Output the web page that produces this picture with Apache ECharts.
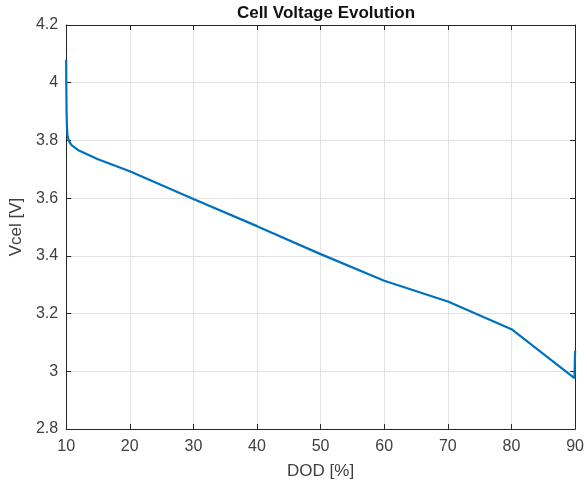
<!DOCTYPE html>
<html>
<head>
<meta charset="utf-8">
<script src="https://cdn.jsdelivr.net/npm/echarts@6/dist/echarts.min.js"></script>
<style>html,body{margin:0;padding:0;background:#fff}#c{width:587px;height:486px}</style>
</head>
<body>
<div id="c"></div>
<script>
const dod  = [10, 10.03, 10.07, 10.12, 10.2, 10.4, 10.8, 12, 15, 20, 30, 40, 50, 60, 70, 80, 89.9, 90];
const vcel = [4.08, 3.98, 3.90, 3.85, 3.82, 3.80, 3.785, 3.765, 3.735, 3.693, 3.597, 3.503, 3.406, 3.314, 3.242, 3.146, 2.976, 3.071];
const xTicks = [10, 20, 30, 40, 50, 60, 70, 80, 90];
const yTicks = [2.8, 3, 3.2, 3.4, 3.6, 3.8, 4, 4.2];

const axisCol = '#262626';
const labelCol = '#404040';
const font = 'Liberation Sans, Arial, sans-serif';
const chart = echarts.init(document.getElementById('c'));
const base = {
  axisLine: {show: true, lineStyle: {color: axisCol, width: 1}},
  axisTick: {show: true, inside: true, length: 5, lineStyle: {color: axisCol}},
  axisLabel: {color: labelCol, fontSize: 16, fontFamily: font}
};
chart.setOption({
  animation: false,
  title: {
    text: 'Cell Voltage Evolution', left: 321, textAlign: 'center', top: 0,
    textStyle: {fontFamily: font, fontWeight: 'bold', fontSize: 17, color: '#111'}
  },
  grid: {left: 65, right: 11, top: 25, bottom: 57},
  xAxis: [
    Object.assign({}, base, {
      type: 'value', min: xTicks[0], max: xTicks[xTicks.length - 1], interval: 10,
      name: 'DOD [%]', nameLocation: 'middle', nameGap: 34,
      nameTextStyle: {color: labelCol, fontSize: 17, fontFamily: font},
      axisLabel: Object.assign({}, base.axisLabel, {margin: 10}),
      splitLine: {show: true, lineStyle: {color: '#e3e3e3', width: 1}}
    }),
    Object.assign({}, base, {
      type: 'value', position: 'top', min: xTicks[0], max: xTicks[xTicks.length - 1], interval: 10,
      axisLabel: {show: false}, splitLine: {show: false}
    })
  ],
  yAxis: [
    Object.assign({}, base, {
      type: 'value', min: yTicks[0], max: yTicks[yTicks.length - 1], interval: 0.2,
      name: 'Vcel [V]', nameLocation: 'middle', nameGap: 33,
      nameTextStyle: {color: labelCol, fontSize: 17, fontFamily: font},
      axisLabel: Object.assign({}, base.axisLabel, {margin: 8, formatter: v => String(+v.toFixed(1))}),
      splitLine: {show: true, lineStyle: {color: '#e3e3e3', width: 1}}
    }),
    Object.assign({}, base, {
      type: 'value', position: 'right', min: yTicks[0], max: yTicks[yTicks.length - 1], interval: 0.2,
      axisLabel: {show: false}, splitLine: {show: false}
    })
  ],
  series: [{
    type: 'line', showSymbol: false, symbol: 'none',
    data: dod.map((d, i) => [d, vcel[i]]),
    lineStyle: {color: '#0072BD', width: 2.2},
    itemStyle: {color: '#0072BD'}
  }]
});
</script>
</body>
</html>
